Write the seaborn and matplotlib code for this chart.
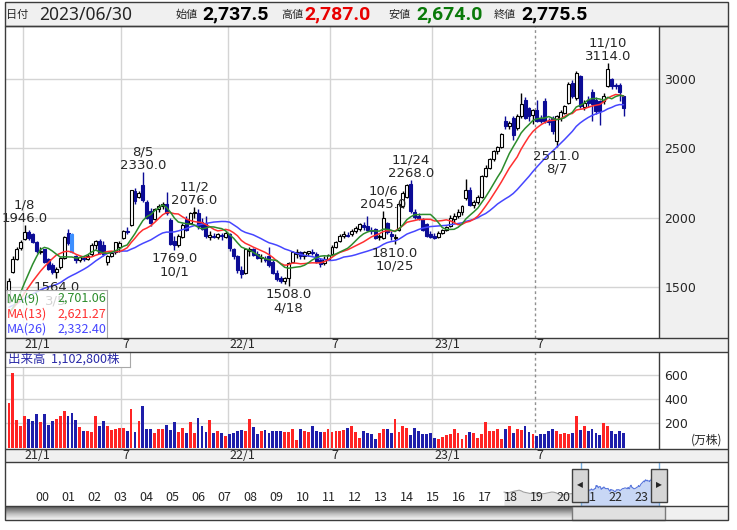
import matplotlib
matplotlib.use("Agg")
import matplotlib.pyplot as plt
from matplotlib.patches import Rectangle
import numpy as np
import pandas as pd
import seaborn as sns

sns.set_style("white")
plt.rcParams['font.family'] = ['DejaVu Sans', 'Noto Sans CJK JP']
JP = ['Noto Sans CJK JP', 'DejaVu Sans']

W, H = 737, 530

# weekly candles, 2020-12-11 .. 2023-12-08
dates = pd.date_range("2020-12-11", periods=157, freq="W-FRI")

opens = [1390, 1610, 1700, 1780, 1846, 1895, 1880, 1822, 1750, 1770,
         1700, 1660, 1610, 1640, 1705, 1890, 1880, 1720, 1690, 1710,
         1700, 1735, 1800, 1834, 1800, 1680, 1725, 1750, 1790, 1850,
         1905, 1943, 2190, 2150, 2234, 2110, 2050, 1990, 2060, 2080,
         2095, 1979, 1830, 1800, 1860, 1990, 1960, 2030, 2030, 1967,
         1960, 1860, 1870, 1860, 1870, 1860, 1880, 1770, 1720, 1620,
         1600, 1760, 1770, 1740, 1710, 1700, 1720, 1680, 1600, 1560,
         1540, 1560, 1680, 1740, 1750, 1720, 1745, 1750, 1740, 1690,
         1670, 1700, 1740, 1790, 1830, 1870, 1875, 1880, 1905, 1920,
         1945, 1940, 1910, 1915, 1860, 1850, 1960, 1880, 1850, 1910,
         2080, 2150, 2240, 2040, 2010, 1990, 1950, 1880, 1870, 1860,
         1890, 1910, 1940, 1990, 2010, 2040, 2140, 2200, 2090, 2110,
         2150, 2300, 2360, 2420, 2480, 2510, 2700, 2660, 2719, 2646,
         2731, 2852, 2790, 2737.5, 2780, 2720, 2840, 2700, 2719, 2549,
         2720, 2755, 2828, 2973, 2864, 3022, 2800, 2850, 2910, 2852,
         2840, 2840, 2949, 2997, 2960, 2960, 2876]
highs = [1560, 1720, 1790, 1840, 1946, 1910, 1890, 1830, 1790, 1775,
         1710, 1670, 1645, 1715, 1870, 1915, 1890, 1730, 1725, 1720,
         1740, 1815, 1840, 1845, 1830, 1730, 1760, 1825, 1830, 1910,
         1930, 2200, 2210, 2190, 2330, 2130, 2070, 2070, 2100, 2110,
         2185, 2000, 1870, 1880, 1960, 2010, 2040, 2076, 2060, 2000,
         2010, 1900, 1890, 1890, 1885, 1900, 1890, 1780, 1730, 1650,
         1780, 1790, 1780, 1760, 1740, 1720, 1790, 1690, 1620, 1580,
         1570, 1680, 1760, 1770, 1760, 1760, 1760, 1770, 1750, 1710,
         1720, 1740, 1800, 1830, 1880, 1900, 1895, 1920, 1940, 1960,
         1970, 2010, 1930, 1925, 1880, 2045, 1970, 1900, 1880, 2110,
         2190, 2240, 2268, 2060, 2030, 2000, 1960, 1900, 1890, 1900,
         1920, 1940, 2020, 2030, 2060, 2090, 2280, 2220, 2130, 2160,
         2310, 2380, 2430, 2490, 2520, 2610, 2730, 2700, 2730, 2745,
         2900, 2870, 2800, 2787, 2850, 2740, 2860, 2720, 2730, 2740,
         2780, 2815, 2980, 2990, 3060, 3030, 2850, 2880, 2930, 2870,
         2850, 2900, 3114, 3010, 2975, 2970, 2880]
lows = [1380, 1600, 1690, 1765, 1835, 1840, 1815, 1745, 1735, 1670,
        1620, 1595, 1564, 1630, 1700, 1805, 1745, 1670, 1680, 1685,
        1690, 1725, 1770, 1735, 1725, 1660, 1715, 1740, 1750, 1845,
        1880, 1940, 2100, 2140, 2110, 1990, 1940, 1980, 2040, 2060,
        2020, 1800, 1769, 1790, 1850, 1900, 1950, 2000, 1920, 1910,
        1850, 1840, 1850, 1845, 1840, 1855, 1760, 1700, 1600, 1560,
        1590, 1720, 1720, 1700, 1680, 1680, 1640, 1590, 1545, 1530,
        1520, 1508, 1670, 1710, 1700, 1700, 1720, 1730, 1670, 1640,
        1660, 1690, 1730, 1780, 1825, 1850, 1860, 1870, 1890, 1900,
        1910, 1900, 1880, 1845, 1840, 1845, 1880, 1840, 1810, 1900,
        2070, 2140, 2030, 1990, 1985, 1900, 1860, 1850, 1845, 1850,
        1880, 1900, 1930, 1960, 2000, 2020, 2130, 2080, 2070, 2100,
        2140, 2290, 2350, 2410, 2460, 2500, 2640, 2640, 2561, 2630,
        2720, 2710, 2700, 2674, 2690, 2680, 2680, 2670, 2600, 2511,
        2700, 2745, 2820, 2860, 2850, 2790, 2780, 2800, 2700, 2750,
        2670, 2820, 2940, 2930, 2930, 2840, 2731]
closes = [1540, 1700, 1775, 1825, 1895, 1850, 1822, 1755, 1758, 1680,
          1630, 1610, 1625, 1705, 1860, 1815, 1750, 1690, 1712, 1700,
          1725, 1805, 1830, 1745, 1740, 1725, 1745, 1820, 1815, 1900,
          1895, 2197, 2120, 2180, 2130, 2000, 1960, 2060, 2080, 2095,
          2030, 1810, 1800, 1870, 1943, 1910, 2030, 2038, 1940, 1920,
          1870, 1875, 1860, 1880, 1865, 1890, 1780, 1720, 1620, 1590,
          1770, 1775, 1730, 1710, 1715, 1690, 1660, 1600, 1555, 1545,
          1560, 1670, 1750, 1750, 1720, 1750, 1755, 1745, 1680, 1665,
          1700, 1730, 1790, 1820, 1870, 1880, 1870, 1905, 1925, 1950,
          1930, 1910, 1900, 1855, 1870, 2000, 1895, 1870, 1860, 2095,
          2180, 2235, 2045, 2005, 2000, 1910, 1870, 1860, 1855, 1890,
          1910, 1930, 2000, 2010, 2040, 2080, 2200, 2090, 2110, 2150,
          2300, 2360, 2420, 2480, 2507, 2600, 2658, 2680, 2597, 2731,
          2820, 2720, 2730, 2775.5, 2700, 2700, 2695, 2690, 2622, 2731,
          2760, 2803, 2961, 2876, 3046, 2803, 2830, 2830, 2820, 2767,
          2767, 2880, 3070, 2949, 2950, 2910, 2791]

# volume in 万株
volume = [365, 613, 230, 175, 256, 235, 216, 275, 210, 275,
          189, 221, 238, 256, 302, 256, 283, 224, 170, 135,
          135, 127, 256, 175, 216, 175, 143, 154, 162, 162,
          135, 316, 127, 216, 338, 154, 154, 116, 154, 154,
          189, 148, 208, 127, 157, 116, 210, 116, 243, 181,
          127, 224, 116, 135, 116, 95, 108, 116, 135, 148,
          135, 235, 170, 108, 135, 143, 116, 135, 135, 135,
          127, 127, 154, 62, 154, 135, 127, 181, 135, 127,
          127, 154, 127, 135, 135, 143, 162, 181, 127, 81,
          135, 116, 108, 73, 116, 154, 154, 116, 235, 127,
          181, 162, 100, 162, 135, 108, 108, 116, 81, 73,
          89, 100, 108, 154, 116, 73, 100, 127, 116, 81,
          108, 210, 135, 135, 154, 67, 154, 181, 116, 154,
          143, 181, 127, 110.28, 95, 108, 108, 135, 154, 135,
          108, 116, 108, 116, 256, 143, 181, 135, 154, 116,
          100, 202, 181, 135, 108, 135, 116]

# closes before the first candle, only used to warm up the moving averages
pre_closes = [1380, 1400, 1390, 1410, 1420, 1400, 1380, 1370, 1360, 1380,
              1400, 1390, 1370, 1350, 1340, 1360, 1330, 1310, 1300, 1280,
              1270, 1260, 1240, 1250, 1290]

# navigator: monthly closes 2018-01 .. 2020-11
nav_monthly = [1500, 1450, 1400, 1480, 1550, 1600, 1650, 1700, 1620, 1500, 1450, 1400,
               1350, 1380, 1420, 1400, 1330, 1300, 1320, 1350, 1400, 1450, 1500, 1480,
               1420, 1300, 1150, 1200, 1250, 1280, 1300, 1320, 1350, 1300, 1280]

ann_high = [(4, "1/8"), (34, "8/5"), (47, "11/2"), (95, "10/6"), (102, "11/24"), (152, "11/10")]
ann_low = [(12, "3/5"), (42, "10/1"), (71, "4/18"), (98, "10/25"), (139, "8/7")]

tick_pos = [4, 29, 56, 82, 108, 134]
tick_lab = ["21/1", "7", "22/1", "7", "23/1", "7"]


def box(x0, y0, x1, y1):
    return [x0 / W, 1 - y1 / H, (x1 - x0) / W, (y1 - y0) / H]


def rect(x0, y0, x1, y1, **kw):
    r = Rectangle((x0 / W, 1 - y1 / H), (x1 - x0) / W, (y1 - y0) / H,
                  transform=fig.transFigure, **kw)
    fig.add_artist(r)
    return r


fig = plt.figure(figsize=(W / 100, H / 100), dpi=100)
fig.patch.set_facecolor('white')

# gray panels
for r in [(5, 2, 728, 26), (659, 26, 728, 338), (5, 338, 728, 352), (5, 449, 728, 462)]:
    rect(*r, facecolor='#f0f0f0', edgecolor='none', zorder=-5)

idx = np.arange(len(closes))
o, h, l, c = (np.array(v, dtype=float) for v in (opens, highs, lows, closes))
up = c >= o

# ---------------- price panel
ax = fig.add_axes(box(5, 26, 659, 338))
ax.set_xlim(-1.0, 165.0)
ax.set_ylim(1130, 3383)
ax.set_xticks([])
ax.set_yticks([1500, 2000, 2500, 3000])
ax.yaxis.tick_right()
ax.tick_params(axis='y', length=0, pad=4, labelsize=9)
for y in [1500, 2000, 2500, 3000]:
    ax.axhline(y, color='#d4d4d4', lw=1, zorder=0)
grid_x = [p - 0.5 for p in tick_pos]
for g in grid_x[:-1]:
    ax.axvline(g, color='#d4d4d4', lw=1, zorder=0)
ax.axvline(grid_x[-1], color='#909090', lw=1, ls=(0, (2, 2)), zorder=0)

face = ['white' if u else '#0c0c96' for u in up]
edge = ['black' if u else '#0c0c96' for u in up]
face[16] = edge[16] = '#3d8fff'
ax.vlines(idx, l, h, colors=edge, lw=1, zorder=2)
ax.bar(idx, np.maximum(np.abs(c - o), 6), bottom=np.minimum(o, c), width=0.75,
       color=face, edgecolor=edge, linewidth=0.8, zorder=2.5)

allc = pd.Series(pre_closes + closes, dtype=float)
for n, col in [(26, '#4646ff'), (13, '#ff3030'), (9, '#2c8c2c')]:
    ma = allc.rolling(n).mean().iloc[len(pre_closes):].to_numpy()
    sns.lineplot(x=idx, y=ma, ax=ax, color=col, lw=1.1, zorder=3)

for i, d in ann_high:
    ax.annotate(f"{highs[i]:.1f}", (i, highs[i]), xytext=(0, 2.2), textcoords='offset points',
                ha='center', va='baseline', fontsize=9.5, zorder=5)
    ax.annotate(d, (i, highs[i]), xytext=(0, 12), textcoords='offset points',
                ha='center', va='baseline', fontsize=9.5, zorder=5)
for i, d in ann_low:
    ax.annotate(f"{lows[i]:.1f}", (i, lows[i]), xytext=(0, -9.2), textcoords='offset points',
                ha='center', va='baseline', fontsize=9.5, zorder=5)
    ax.annotate(d, (i, lows[i]), xytext=(0, -18.8), textcoords='offset points',
                ha='center', va='baseline', fontsize=9.5, zorder=5)

for g, t in zip(grid_x, tick_lab):
    ax.text(g + 0.4, -7 / 312, t, transform=ax.get_xaxis_transform(), ha='left', va='center',
            fontsize=9, family=JP)
for s in ax.spines.values():
    s.set_visible(False)

# MA legend box
axl = fig.add_axes(box(5, 290, 107, 338))
axl.set_xticks([])
axl.set_yticks([])
axl.patch.set_facecolor('white')
axl.patch.set_alpha(0.8)
for s in axl.spines.values():
    s.set_color('#a8a8a8')
for name, val, col, yy in [("MA(9)", "2,701.06", '#2c8c2c', 0.82),
                           ("MA(13)", "2,621.27", '#ff3030', 0.50),
                           ("MA(26)", "2,332.40", '#4646ff', 0.18)]:
    axl.text(0.015, yy, name, color=col, fontsize=9, family=JP, va='center', ha='left')
    axl.text(0.99, yy, val, color=col, fontsize=9, family=JP, va='center', ha='right')

# ---------------- volume panel
axv = fig.add_axes(box(5, 352, 659, 449))
axv.set_xlim(-1.0, 165.0)
axv.set_ylim(-12, 785)
axv.set_xticks([])
axv.set_yticks([200, 400, 600])
axv.yaxis.tick_right()
axv.tick_params(axis='y', length=0, pad=4, labelsize=9)
for y in [200, 400, 600]:
    axv.axhline(y, color='#d4d4d4', lw=1, zorder=0)
for g in grid_x[:-1]:
    axv.axvline(g, color='#d4d4d4', lw=1, zorder=0)
axv.axvline(grid_x[-1], color='#909090', lw=1, ls=(0, (2, 2)), zorder=0)
vcol = ['#ff2424' if u else '#1e1eaa' for u in up]
axv.bar(idx, volume, width=0.72, color=vcol, linewidth=0, zorder=2)
for s in axv.spines.values():
    s.set_visible(False)
for g, t in zip(grid_x, tick_lab):
    axv.text(g + 0.4, -6.5 / 97, t, transform=axv.get_xaxis_transform(), ha='left', va='center',
             fontsize=9, family=JP)
fig.text(691 / W, 1 - 440 / H, "(万株)", fontsize=8.5, family=JP, ha='left', va='center')

axb = fig.add_axes(box(5, 352, 130, 367))
axb.set_xticks([])
axb.set_yticks([])
for s in axb.spines.values():
    s.set_color('#a8a8a8')
axb.text(0.02, 0.5, "出来高  1,102,800株", color='#2a2aa8', fontsize=9, family=JP,
         va='center', ha='left')

# ---------------- navigator
axn = fig.add_axes(box(5, 462, 728, 506))
axn.set_xlim(1998.85, 2026.6)
axn.set_ylim(0, 4730)
axn.axis('off')
xg = list(2018 + np.arange(len(nav_monthly)) / 12) + [dates[0].year + (dates[0].dayofyear - 1) / 365]
yg = nav_monthly + [closes[0]]
xb = (dates.year + (dates.dayofyear - 1) / 365).to_numpy()
axn.fill_between(xg, yg, 0, color='#e6e6e6', lw=0)
sns.lineplot(x=xg, y=yg, ax=axn, color='#a0a0a0', lw=0.8)
axn.fill_between(xb, closes, 0, color='#c8d7f5', lw=0)
sns.lineplot(x=xb, y=closes, ax=axn, color='#5a78dc', lw=0.8)
axn.axvline(xb[0], color='#78aee0', lw=1)
axn.axvline(xb[-1], color='#78aee0', lw=1)
for k in range(24):
    axn.text(2000 + k, 0.2, f"{k:02d}", transform=axn.get_xaxis_transform(), ha='left',
             va='center', fontsize=9, family=JP)

# slider handles
for x0 in (572, 651):
    rect(x0, 469, x0 + 16, 502, facecolor='#d6d6d6', edgecolor='#404040', lw=1, zorder=30)
fig.text(580 / W, 1 - 485 / H, "◀", fontsize=5.5, ha='center', va='center', zorder=31)
fig.text(659 / W, 1 - 485 / H, "▶", fontsize=5.5, ha='center', va='center', zorder=31)

# scrollbar
axs = fig.add_axes(box(5, 506, 572, 520))
axs.imshow(np.linspace(0, 1, 20).reshape(-1, 1), aspect='auto', cmap='Greys_r',
           vmin=-0.35, vmax=1.15, extent=(0, 1, 0, 1))
axs.axis('off')
rect(572, 506, 665, 520, facecolor='#e0e0e0', edgecolor='#7a7a7a', lw=1, zorder=20)
rect(665, 506, 728, 520, facecolor='#f0f0f0', edgecolor='none', zorder=-5)

# ---------------- frame lines
line_kw = dict(facecolor='none', edgecolor='#3c3c3c', lw=1, zorder=25)
rect(5, 2, 728, 26, **line_kw)
rect(5, 26, 728, 520, **line_kw)
rect(659, 26, 659.01, 338, **line_kw)
rect(659, 352, 659.01, 449, **line_kw)
for y in (338, 352, 449, 462, 506):
    rect(5, y, 728, y + 0.01, **line_kw)

# ---------------- header
hy = 1 - 14.5 / H
fig.text(6 / W, hy, "日付", fontsize=8, family=JP, va='center')
fig.text(39 / W, hy, "2023/06/30", fontsize=12.5, family='Noto Sans', va='center')
items = [(176, "始値", 202, "2,737.5", 'black'),
         (281, "高値", 304, "2,787.0", '#e80000'),
         (388, "安値", 416, "2,674.0", '#0a7a0a'),
         (494, "終値", 521, "2,775.5", 'black')]
for xl, lab, xv, val, col in items:
    fig.text(xl / W, hy, lab, fontsize=8, family=JP, va='center')
    fig.text(xv / W, hy, val, fontsize=14, family='Roboto', weight='bold', color=col, va='center')

fig.savefig("out.png", dpi=100, facecolor='white')
